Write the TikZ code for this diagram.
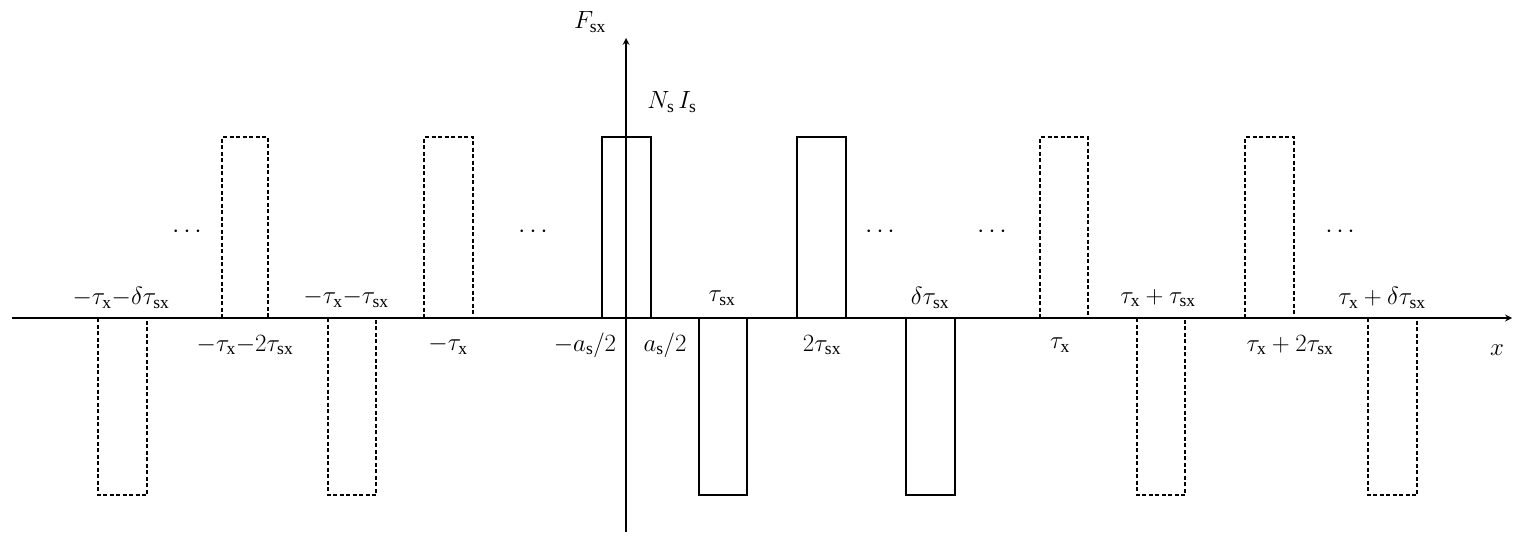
\documentclass[tikz,border=0pt]{standalone}
\usepackage{fontspec}
\setmainfont{Liberation Serif}
\begin{document}
\begin{tikzpicture}[x=1pt,y=-1pt,line width=2pt,
    pulse/.style={dash pattern=on 4pt off 2.5pt},
    lbl/.style={font=\fontsize{25}{28}\selectfont, inner sep=0pt}]
        \useasboundingbox (0,0) rectangle (1528,543);

        % axes
        \coordinate (xs) at (12,318);
        \coordinate (xe) at (1512,318);
        \coordinate (ys) at (626,532);
        \coordinate (ye) at (626,38);
        \draw[-stealth] (xs) -- (xe);
        \draw[-stealth] (ys) -- (ye);

        % pulses
        \draw[pulse] (98,318) rectangle (147,495);
        \draw[pulse] (222,318) rectangle (268,137);
        \draw[pulse] (328,318) rectangle (376,495);
        \draw[pulse] (424,318) rectangle (473,137);
        \draw (602,318) rectangle (651,137);
        \draw (699,318) rectangle (747,495);
        \draw (797,318) rectangle (846,137);
        \draw (906,318) rectangle (955,495);
        \draw[pulse] (1040,318) rectangle (1088,137);
        \draw[pulse] (1137,318) rectangle (1185,495);
        \draw[pulse] (1245,318) rectangle (1294,137);
        \draw[pulse] (1368,318) rectangle (1417,495);

        % labels
        \node[lbl] (fsx) at (590,22) {$F_{\mathrm{sx}}$};
        \node[lbl] (nsis) at (672,102) {$N_{\mathrm{s}}\,I_{\mathrm{s}}$};
        \node[lbl] (xl) at (1497,350) {$x$};

        \node[lbl] (l1) at (121,298) {$-\tau_{\mathrm{x}}{-}\delta\tau_{\mathrm{sx}}$};
        \node[lbl] (l2) at (245,345) {$-\tau_{\mathrm{x}}{-}2\tau_{\mathrm{sx}}$};
        \node[lbl] (l3) at (346,298) {$-\tau_{\mathrm{x}}{-}\tau_{\mathrm{sx}}$};
        \node[lbl] (l4) at (448,345) {$-\tau_{\mathrm{x}}$};
        \node[lbl] (l5) at (585,345) {$-a_{\mathrm{s}}/2$};
        \node[lbl] (l6) at (665,345) {$a_{\mathrm{s}}/2$};
        \node[lbl] (l7) at (722,298) {$\tau_{\mathrm{sx}}$};
        \node[lbl] (l8) at (822,345) {$2\tau_{\mathrm{sx}}$};
        \node[lbl] (l9) at (930,298) {$\delta\tau_{\mathrm{sx}}$};
        \node[lbl] (l10) at (1060,345) {$\tau_{\mathrm{x}}$};
        \node[lbl] (l11) at (1158,298) {$\tau_{\mathrm{x}}+\tau_{\mathrm{sx}}$};
        \node[lbl] (l12) at (1290,345) {$\tau_{\mathrm{x}}+2\tau_{\mathrm{sx}}$};
        \node[lbl] (l13) at (1382,298) {$\tau_{\mathrm{x}}+\delta\tau_{\mathrm{sx}}$};

        \node[lbl] (d1) at (187,232) {$\cdots$};
        \node[lbl] (d2) at (533,232) {$\cdots$};
        \node[lbl] (d3) at (880,232) {$\cdots$};
        \node[lbl] (d4) at (992,232) {$\cdots$};
        \node[lbl] (d5) at (1340,232) {$\cdots$};
    \end{tikzpicture}
\end{document}
